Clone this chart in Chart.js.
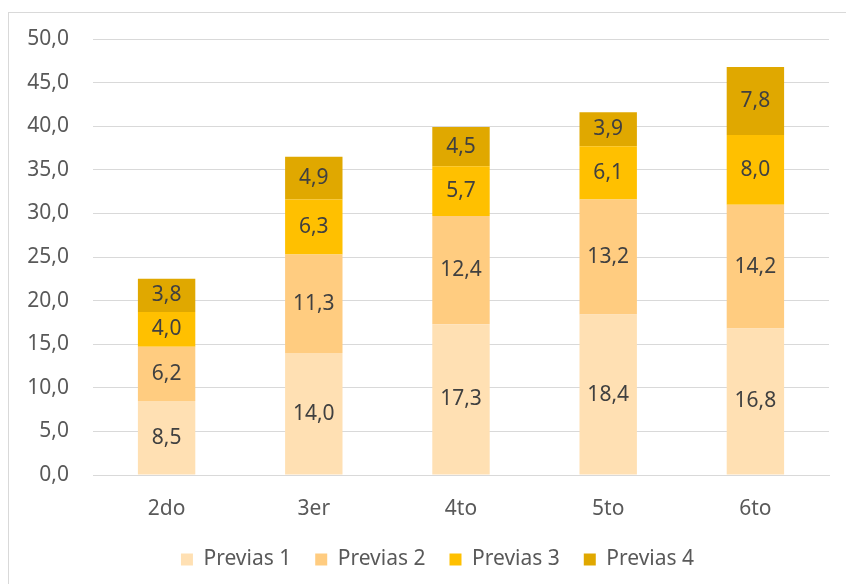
<!DOCTYPE html>
<html>
<head>
<meta charset="utf-8">
<script src="https://cdn.jsdelivr.net/npm/chart.js@4"></script>
<style>
    html, body { margin: 0; padding: 0; background: #fff; }
    #wrap { position: relative; width: 846px; height: 584px; }
    #frame {
        position: absolute; left: 8px; top: 12px; width: 900px; height: 700px;
        border: 1px solid #d9d9d9; pointer-events: none;
    }
</style>
</head>
<body>
<div id="wrap">
    <canvas id="chart" width="846" height="584"></canvas>
    <div id="frame"></div>
</div>
<script>
// Categories and series
const categories = ['2do', '3er', '4to', '5to', '6to'];
const previas1 = [8.5, 14.0, 17.3, 18.4, 16.8];
const previas2 = [6.2, 11.3, 12.4, 13.2, 14.2];
const previas3 = [4.0, 6.3, 5.7, 6.1, 8.0];
const previas4 = [3.8, 4.9, 4.5, 3.9, 7.8];
const seriesNames = ['Previas 1', 'Previas 2', 'Previas 3', 'Previas 4'];
const seriesColors = ['#FFE0B3', '#FFCC80', '#FFC000', '#E0A800'];

const FONT = "'Noto Sans', sans-serif";

function fmt(v) {
    return v.toFixed(1).replace('.', ',');
}

// Draw value labels centred in each bar segment
const barLabels = {
    id: 'barLabels',
    afterDatasetsDraw(chart) {
        const ctx = chart.ctx;
        ctx.save();
        ctx.font = '21px ' + FONT;
        ctx.fillStyle = '#404040';
        ctx.textAlign = 'center';
        ctx.textBaseline = 'middle';
        chart.data.datasets.forEach((ds, i) => {
            chart.getDatasetMeta(i).data.forEach((bar, j) => {
                const y = (bar.y + bar.base) / 2;
                ctx.fillText(fmt(ds.data[j]), bar.x, y);
            });
        });
        ctx.restore();
    }
};

// Legend sits a bit right of the canvas centre, like the original
const legendShift = {
    id: 'legendShift',
    afterLayout(chart) {
        if (chart.legend) chart.legend.left += 46;
    }
};

const allSeries = [previas1, previas2, previas3, previas4];

new Chart(document.getElementById('chart'), {
    type: 'bar',
    data: {
        labels: categories,
        datasets: allSeries.map((d, i) => ({
            label: seriesNames[i],
            data: d,
            backgroundColor: seriesColors[i],
            borderWidth: 0,
            categoryPercentage: 1,
            barPercentage: 0.39
        }))
    },
    options: {
        responsive: false,
        animation: false,
        layout: { padding: { left: 0, right: 17, top: 39, bottom: 4 } },
        plugins: {
            legend: {
                position: 'bottom',
                labels: {
                    boxWidth: 12,
                    boxHeight: 12,
                    padding: 24,
                    color: '#595959',
                    font: { family: FONT, size: 21 }
                }
            },
            tooltip: { enabled: false }
        },
        scales: {
            x: {
                stacked: true,
                grid: { display: false },
                border: { color: '#d9d9d9', width: 1 },
                ticks: { color: '#595959', padding: 13, font: { family: FONT, size: 21 } },
                afterFit: function (s) { s.height = 50; }
            },
            y: {
                stacked: true,
                min: 0,
                max: 50,
                grid: { color: '#d9d9d9', lineWidth: 1, drawTicks: false },
                border: { display: false },
                ticks: {
                    stepSize: 5,
                    color: '#595959',
                    padding: 24,
                    font: { family: FONT, size: 21 },
                    callback: function (v) { return fmt(v); }
                },
                afterFit: function (s) { s.width = 93; }
            }
        }
    },
    plugins: [barLabels, legendShift]
});
</script>
</body>
</html>
